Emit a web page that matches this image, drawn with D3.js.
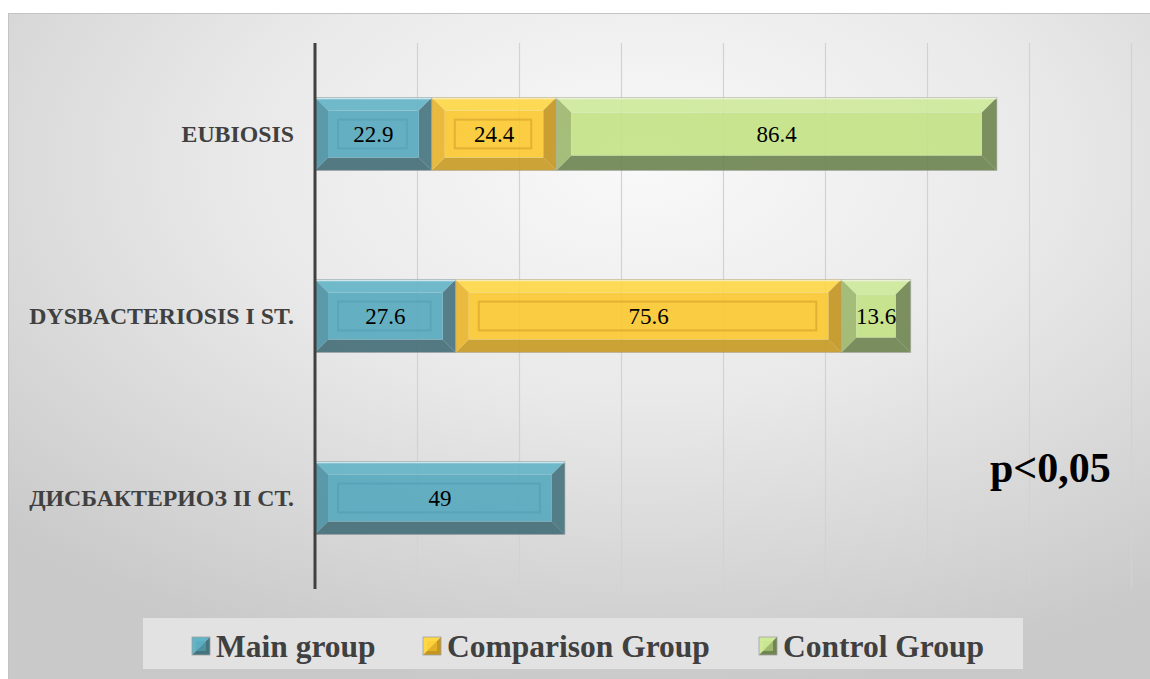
<!DOCTYPE html>
<html>
<head>
<meta charset="utf-8">
<script src="https://cdn.jsdelivr.net/npm/d3@7"></script>
<style>
  html, body { margin: 0; padding: 0; background: #ffffff; }
  svg { display: block; }
</style>
</head>
<body>
<svg id="chart" width="1150" height="679"></svg>
<script>
// Microbiota state by patient group (%), stacked per category
const categories = ["EUBIOSIS", "DYSBACTERIOSIS I ST.", "ДИСБАКТЕРИОЗ II СТ."];
const seriesNames = ["Main group", "Comparison Group", "Control Group"];
const mainGroup = [22.9, 27.6, 49];
const comparisonGroup = [24.4, 75.6, 0];
const controlGroup = [86.4, 13.6, 0];
const xTicks = [0, 20, 40, 60, 80, 100, 120, 140, 160];
const note = "p<0,05";

const W = 1150, H = 679;
const svg = d3.select("#chart");
const defs = svg.append("defs");

// chart background: soft radial grey
const bg = defs.append("radialGradient").attr("id", "bgGrad")
  .attr("cx", "55%").attr("cy", "22%").attr("r", "78%");
bg.append("stop").attr("offset", "0%").attr("stop-color", "#f9f9f9");
bg.append("stop").attr("offset", "45%").attr("stop-color", "#e9e9e9");
bg.append("stop").attr("offset", "100%").attr("stop-color", "#c9c9c9");

svg.append("rect").attr("x", 8.5).attr("y", 13.5)
  .attr("width", W).attr("height", H)
  .attr("fill", "url(#bgGrad)").attr("stroke", "#c4c4c4").attr("stroke-width", 1);

const plot = { left: 315, right: 1131, top: 43, bottom: 589 };

const x = d3.scaleLinear().domain([0, 160]).range([plot.left, plot.right]);
const y = d3.scaleBand().domain(categories)
  .range([plot.top, plot.bottom]).paddingInner(0.6).paddingOuter(0.3);

// gridlines, darkening towards the bottom
const gg = defs.append("linearGradient").attr("id", "gridGrad")
  .attr("gradientUnits", "userSpaceOnUse")
  .attr("x1", 0).attr("y1", plot.top).attr("x2", 0).attr("y2", plot.bottom);
gg.append("stop").attr("offset", "0%").attr("stop-color", "#d2d2d2");
gg.append("stop").attr("offset", "100%").attr("stop-color", "#8e8e8e");

svg.append("g")
  .attr("transform", `translate(0,${plot.bottom})`)
  .call(d3.axisBottom(x).tickValues(xTicks.slice(1)).tickSize(-(plot.bottom - plot.top)).tickFormat(""))
  .call(g => g.select(".domain").remove())
  .call(g => g.selectAll(".tick line").attr("stroke", "url(#gridGrad)").attr("stroke-width", 1.2));

// series styling (face and bevel shades)
const styles = [
  { face: "#56a9be", top: "#62b4c7", hl: "#cfe9ef", left: "#4c92a4", right: "#45737e", bottom: "#436d78",
    inner: "#4b9fb4", bevel: 13 },
  { face: "#fcc92f", top: "#fed845", hl: "#fff0b0", left: "#e9b52a", right: "#c59620", bottom: "#c89b22",
    inner: "#e2ab1f", bevel: 13 },
  { face: "#c4e385", top: "#cfea9b", hl: "#eef8da", left: "#9db86c", right: "#6f8650", bottom: "#6d8450",
    inner: null, bevel: 15 }
];

const seriesValues = [mainGroup, comparisonGroup, controlGroup];

// build stacked segments
const segments = [];
categories.forEach((cat, ci) => {
  let acc = 0;
  seriesValues.forEach((vals, si) => {
    const v = vals[ci];
    if (v > 0) segments.push({ cat, si, v, x0: acc, x1: acc + v });
    acc += v;
  });
});

const barG = svg.append("g").attr("opacity", 0.9);

segments.forEach(s => {
  const st = styles[s.si];
  const x0 = x(s.x0), x1 = x(s.x1);
  const y0 = y(s.cat), y1 = y0 + y.bandwidth();
  const b = Math.min(st.bevel, (x1 - x0) / 3);
  const g = barG.append("g");
  // bevel faces
  g.append("polygon").attr("points", [[x0, y0], [x1, y0], [x1 - b, y0 + b], [x0 + b, y0 + b]].join(" ")).attr("fill", st.top);
  g.append("polygon").attr("points", [[x0, y1], [x1, y1], [x1 - b, y1 - b], [x0 + b, y1 - b]].join(" ")).attr("fill", st.bottom);
  g.append("polygon").attr("points", [[x0, y0], [x0 + b, y0 + b], [x0 + b, y1 - b], [x0, y1]].join(" ")).attr("fill", st.left);
  g.append("polygon").attr("points", [[x1, y0], [x1 - b, y0 + b], [x1 - b, y1 - b], [x1, y1]].join(" ")).attr("fill", st.right);
  g.append("rect").attr("x", x0 + b).attr("y", y0 + b)
    .attr("width", Math.max(0, x1 - x0 - 2 * b)).attr("height", y1 - y0 - 2 * b).attr("fill", st.face);
  // highlight along the top edge
  g.append("line").attr("x1", x0).attr("x2", x1).attr("y1", y0 + 0.8).attr("y2", y0 + 0.8)
    .attr("stroke", st.hl).attr("stroke-width", 1.6);
  // soft outline
  g.append("rect").attr("x", x0).attr("y", y0).attr("width", x1 - x0).attr("height", y1 - y0)
    .attr("fill", "none").attr("stroke", "#9a9a9a").attr("stroke-opacity", 0.5).attr("stroke-width", 1);
  // inner panel
  if (st.inner) {
    g.append("rect").attr("x", x0 + b + 10).attr("y", y0 + b + 9)
      .attr("width", Math.max(0, x1 - x0 - 2 * b - 22)).attr("height", y1 - y0 - 2 * b - 18)
      .attr("fill", "none").attr("stroke", st.inner).attr("stroke-width", 2);
  }
});

// value labels
svg.append("g").selectAll("text").data(segments).join("text")
  .attr("x", d => (x(d.x0) + x(d.x1)) / 2)
  .attr("y", d => y(d.cat) + y.bandwidth() / 2)
  .attr("dy", "0.35em")
  .attr("text-anchor", "middle")
  .attr("font-family", "'Liberation Serif', 'Times New Roman', serif")
  .attr("font-size", 23)
  .attr("fill", "#000")
  .text(d => d.v);

// category axis
svg.append("line").attr("x1", plot.left).attr("x2", plot.left)
  .attr("y1", plot.top).attr("y2", plot.bottom)
  .attr("stroke", "#404040").attr("stroke-width", 3);

svg.append("g").selectAll("text").data(categories).join("text")
  .attr("x", 294)
  .attr("y", d => y(d) + y.bandwidth() / 2)
  .attr("dy", "0.35em")
  .attr("text-anchor", "end")
  .attr("font-family", "'Liberation Serif', 'Times New Roman', serif")
  .attr("font-weight", "bold")
  .attr("font-size", 23.8)
  .attr("fill", "#404040")
  .text(d => d);

// significance note
svg.append("text").attr("x", 990).attr("y", 482)
  .attr("font-family", "'Liberation Serif', 'Times New Roman', serif")
  .attr("font-weight", "bold").attr("font-size", 42).attr("fill", "#000")
  .text(note);

// legend
svg.append("rect").attr("x", 143).attr("y", 618).attr("width", 880).attr("height", 51)
  .attr("fill", "#e2e2e2");

const legendX = [192, 423, 759];
const lg = svg.append("g");
seriesNames.forEach((name, i) => {
  const st = styles[i];
  const mx = legendX[i], my = 637, ms = 18;
  const item = lg.append("g");
  item.append("polygon").attr("points", [[mx, my], [mx + ms, my], [mx, my + ms]].join(" ")).attr("fill", st.top);
  item.append("polygon").attr("points", [[mx + ms, my], [mx + ms, my + ms], [mx, my + ms]].join(" ")).attr("fill", st.right);
  item.append("rect").attr("x", mx + 4).attr("y", my + 4).attr("width", ms - 8).attr("height", ms - 8)
    .attr("fill", st.face).attr("opacity", 0.55);
  item.append("rect").attr("x", mx).attr("y", my).attr("width", ms).attr("height", ms)
    .attr("fill", "none").attr("stroke", "#a0a0a0").attr("stroke-width", 0.8);
  item.append("text").attr("x", mx + ms + 6).attr("y", my + ms / 2).attr("dy", "0.35em")
    .attr("font-family", "'Liberation Serif', 'Times New Roman', serif")
    .attr("font-weight", "bold").attr("font-size", 31.5).attr("fill", "#404040")
    .text(name);
});
</script>
</body>
</html>
